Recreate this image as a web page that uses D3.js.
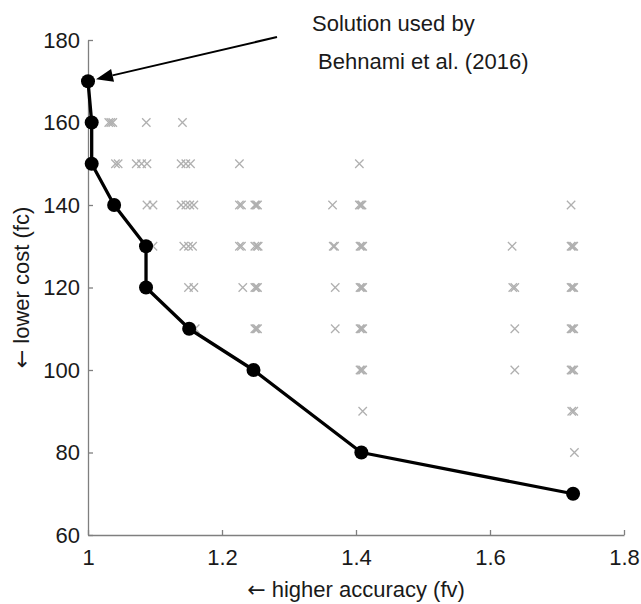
<!DOCTYPE html>
<html>
<head>
<meta charset="utf-8">
<script src="https://cdn.jsdelivr.net/npm/d3@7"></script>
<style>
  html, body { margin: 0; padding: 0; background: #fff; }
  svg { display: block; font-family: "Liberation Sans", Arial, Helvetica, sans-serif; }
</style>
</head>
<body>
<svg id="chart" width="641" height="604"></svg>
<script>
// ---- Data ----
// Pareto front (fv = accuracy measure, fc = cost)
const frontFv = [1.0, 1.0055, 1.0055, 1.039, 1.0866, 1.0866, 1.151, 1.247, 1.408, 1.724];
const frontFc = [170, 160, 150, 140, 130, 120, 110, 100, 80, 70];

// Dominated solutions (grey crosses)
const crossFv = [
  // fc = 160
  1.031, 1.034, 1.037, 1.087, 1.141,
  // fc = 150
  1.041, 1.045, 1.072, 1.080, 1.088, 1.139, 1.146, 1.153, 1.226, 1.405,
  // fc = 140
  1.088, 1.097, 1.139, 1.146, 1.152, 1.158, 1.226, 1.229, 1.249, 1.251, 1.253, 1.365, 1.405, 1.407, 1.409, 1.721,
  // fc = 130
  1.097, 1.143, 1.150, 1.156, 1.226, 1.229, 1.249, 1.252, 1.254, 1.366, 1.368, 1.406, 1.408, 1.410, 1.633, 1.721, 1.723, 1.725,
  // fc = 120
  1.150, 1.158, 1.231, 1.249, 1.251, 1.253, 1.369, 1.406, 1.408, 1.410, 1.634, 1.637, 1.721, 1.723, 1.725,
  // fc = 110
  1.160, 1.249, 1.251, 1.253, 1.369, 1.406, 1.408, 1.410, 1.637, 1.721, 1.723, 1.725,
  // fc = 100
  1.406, 1.408, 1.410, 1.637, 1.721, 1.723, 1.725,
  // fc = 90
  1.410, 1.722, 1.725,
  // fc = 80
  1.726
];
const crossFc = [
  160, 160, 160, 160, 160,
  150, 150, 150, 150, 150, 150, 150, 150, 150, 150,
  140, 140, 140, 140, 140, 140, 140, 140, 140, 140, 140, 140, 140, 140, 140, 140,
  130, 130, 130, 130, 130, 130, 130, 130, 130, 130, 130, 130, 130, 130, 130, 130, 130, 130,
  120, 120, 120, 120, 120, 120, 120, 120, 120, 120, 120, 120, 120, 120, 120,
  110, 110, 110, 110, 110, 110, 110, 110, 110, 110, 110, 110,
  100, 100, 100, 100, 100, 100, 100,
  90, 90, 90,
  80
];

const xTicks = [1, 1.2, 1.4, 1.6, 1.8];
const yTicks = [60, 80, 100, 120, 140, 160, 180];
const xLabel = "higher accuracy (fv)";
const yLabel = "lower cost (fc)";
const arrowGlyph = "\u2190";
const annotationLines = ["Solution used by", " Behnami et al. (2016)"];
const annotatedIndex = 0; // front point the arrow points to

// ---- Layout ----
const svg = d3.select("#chart");
const x = d3.scaleLinear().domain([1, 1.8]).range([88, 624]);
const y = d3.scaleLinear().domain([60, 180]).range([535, 40]);

const axisColor = "#7f7f7f";
const textColor = "#1a1a1a";
const fontSize = 22;

// X axis
const gx = svg.append("g")
  .attr("transform", `translate(0,${y(60)})`)
  .call(d3.axisBottom(x).tickValues(xTicks).tickSizeInner(-5).tickSizeOuter(0)
    .tickPadding(14).tickFormat(d3.format("")));
// Y axis
const gy = svg.append("g")
  .attr("transform", `translate(${x(1)},0)`)
  .call(d3.axisLeft(y).tickValues(yTicks).tickSizeInner(-5).tickSizeOuter(0)
    .tickPadding(8).tickFormat(d3.format("")));

[gx, gy].forEach(g => {
  g.select(".domain").attr("stroke", axisColor).attr("stroke-width", 1.3);
  g.selectAll(".tick line").attr("stroke", axisColor).attr("stroke-width", 1.3);
  g.selectAll(".tick text").attr("fill", textColor)
    .style("font-size", fontSize + "px")
    .style("font-family", '"Liberation Sans", Arial, sans-serif');
});

// Axis titles (arrow glyph drawn with DejaVu Sans for a full-size arrow)
function title(sel, label) {
  sel.append("tspan").style("font-family", '"DejaVu Sans", sans-serif')
    .style("font-size", "22px").text(arrowGlyph);
  sel.append("tspan").text(" " + label);
}
svg.append("text")
  .attr("x", (x(1) + x(1.8)) / 2)
  .attr("y", 597)
  .attr("text-anchor", "middle")
  .attr("fill", textColor)
  .style("font-size", fontSize + "px")
  .call(title, xLabel);

svg.append("text")
  .attr("transform", `translate(29,${(y(60) + y(180)) / 2}) rotate(-90)`)
  .attr("text-anchor", "middle")
  .attr("fill", textColor)
  .style("font-size", fontSize + "px")
  .call(title, yLabel);

// Crosses
const cs = 4.2;
const crossIdx = d3.range(crossFv.length);
svg.append("g")
  .selectAll("path")
  .data(crossIdx)
  .join("path")
  .attr("transform", i => `translate(${x(crossFv[i])},${y(crossFc[i])})`)
  .attr("d", `M${-cs},${-cs}L${cs},${cs}M${-cs},${cs}L${cs},${-cs}`)
  .attr("stroke", "#b0b0b0")
  .attr("stroke-width", 1.3)
  .attr("fill", "none");

// Pareto front line
const frontIdx = d3.range(frontFv.length);
const line = d3.line().x(i => x(frontFv[i])).y(i => y(frontFc[i]));
svg.append("path")
  .datum(frontIdx)
  .attr("d", line)
  .attr("fill", "none")
  .attr("stroke", "#000")
  .attr("stroke-width", 3.3)
  .attr("stroke-linejoin", "round");

svg.append("g")
  .selectAll("circle")
  .data(frontIdx)
  .join("circle")
  .attr("cx", i => x(frontFv[i]))
  .attr("cy", i => y(frontFc[i]))
  .attr("r", 7)
  .attr("fill", "#000");

// Annotation arrow
const tipX = x(frontFv[annotatedIndex]) + 8;
const tipY = y(frontFc[annotatedIndex]) - 2;
const startX = 277, startY = 37;
const ang = Math.atan2(tipY - startY, tipX - startX);
const headLen = 17, headHalf = 6.5;
const baseX = tipX - headLen * Math.cos(ang), baseY = tipY - headLen * Math.sin(ang);
svg.append("line")
  .attr("x1", startX).attr("y1", startY)
  .attr("x2", baseX).attr("y2", baseY)
  .attr("stroke", "#000").attr("stroke-width", 2);
svg.append("path")
  .attr("d", `M${tipX},${tipY}L${baseX - headHalf * Math.sin(ang)},${baseY + headHalf * Math.cos(ang)}L${baseX + headHalf * Math.sin(ang)},${baseY - headHalf * Math.cos(ang)}Z`)
  .attr("fill", "#000");

const ann = svg.append("text")
  .attr("x", 312)
  .attr("y", 31)
  .attr("fill", textColor)
  .style("font-size", fontSize + "px");
annotationLines.forEach((t, k) => {
  ann.append("tspan").attr("x", 312).attr("y", 31 + k * 38).style("white-space", "pre").text(t);
});
</script>
</body>
</html>
